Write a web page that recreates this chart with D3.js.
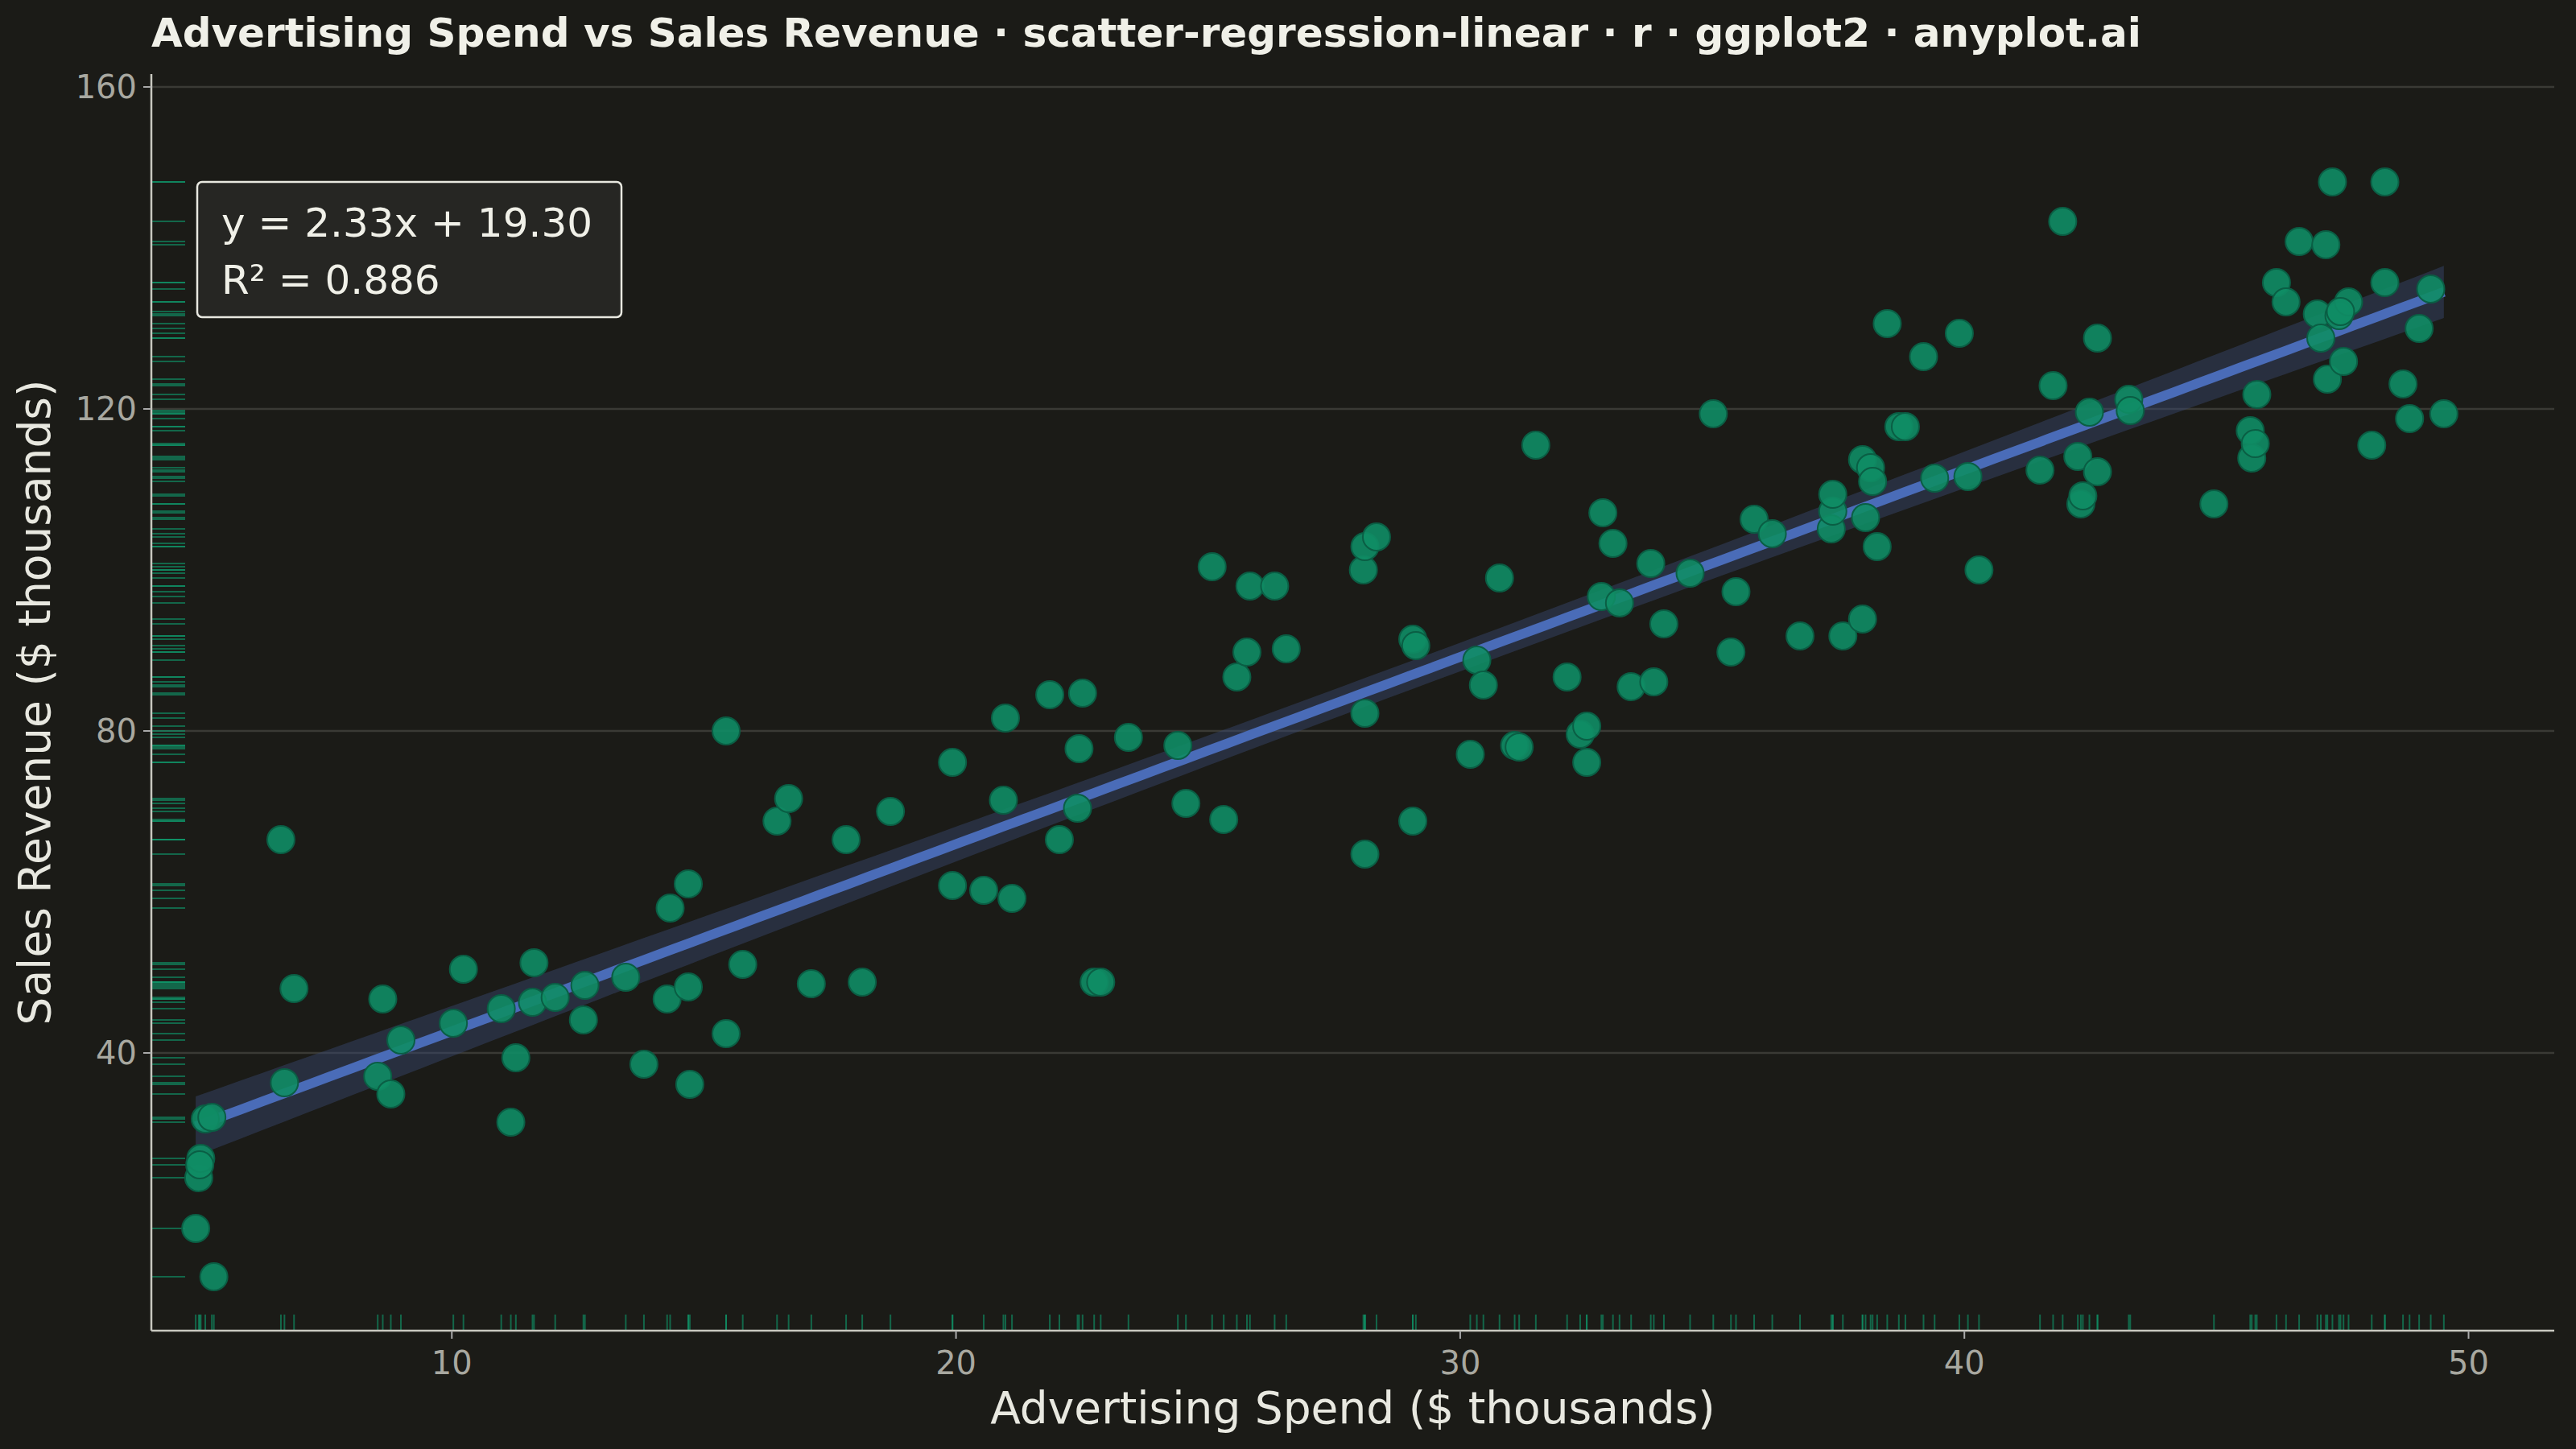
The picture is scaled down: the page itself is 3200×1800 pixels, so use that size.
<!DOCTYPE html><html><head><meta charset="utf-8"><script src="https://cdn.jsdelivr.net/npm/d3@7"></script>
<style>body{margin:0;background:#1b1b17}</style></head><body><svg id="c" width="3200" height="1800"></svg>
<script>
const adSpend=[4.92,5.28,4.98,5.02,5.0,5.11,5.24,6.61,6.68,6.87,8.53,8.63,8.79,8.99,10.03,10.23,10.98,11.17,11.27,11.6,11.63,12.05,12.61,12.64,13.45,13.81,14.27,14.33,14.69,14.69,14.72,15.44,15.44,15.77,16.45,16.68,17.13,17.82,18.14,18.70,19.93,19.93,20.55,20.98,20.94,21.11,21.86,22.05,22.44,22.51,22.41,22.74,22.87,23.42,24.40,24.56,25.08,25.31,25.57,25.77,25.83,26.32,26.55,28.08,28.11,28.34,28.11,28.11,29.06,29.12,29.06,30.33,30.46,30.20,30.78,31.08,31.17,31.50,32.12,32.38,32.51,32.51,32.83,32.80,33.03,33.16,33.39,33.78,33.84,34.04,34.56,35.02,35.37,35.47,35.83,36.19,36.74,37.36,37.39,37.39,37.59,37.98,37.98,38.04,38.14,38.18,38.27,38.47,38.70,38.83,39.19,39.41,39.90,40.07,40.29,41.50,41.76,41.95,42.25,42.31,42.35,42.48,42.64,42.64,43.26,43.29,44.95,45.67,45.70,45.77,45.80,46.19,46.38,46.64,47.0,47.07,47.17,47.20,47.30,47.43,47.52,47.62,47.46,48.08,48.34,48.34,48.70,48.83,49.02,49.25,49.51];
const revenue=[18.2,12.2,24.5,26.9,26.1,31.8,32.0,66.5,36.3,48.0,37.1,46.7,34.9,41.6,43.7,50.4,45.5,31.4,39.4,46.3,51.2,46.9,44.1,48.4,49.4,38.6,46.7,58.0,48.2,61.0,36.1,42.4,80.0,51.0,68.8,71.6,48.6,66.5,48.8,70.0,76.1,60.8,60.2,81.6,71.4,59.2,84.5,66.5,77.8,84.7,70.4,48.8,48.8,79.2,78.2,71.0,100.4,69.0,86.7,89.8,98.0,98.0,90.2,100.0,102.9,104.1,82.2,64.7,91.4,90.6,68.8,88.8,85.7,77.1,99.0,78.2,78.0,115.5,86.7,79.6,80.6,76.1,107.1,96.7,103.3,95.9,85.5,100.8,86.1,93.3,99.6,119.4,89.8,97.3,106.3,104.5,91.8,105.1,107.3,109.4,91.8,93.9,113.7,106.5,112.7,111.0,102.9,130.6,117.8,117.8,126.5,111.4,129.4,111.6,100.0,112.4,122.9,143.3,114.1,108.2,109.2,119.6,112.2,128.8,121.2,119.8,108.2,117.3,113.9,115.7,121.8,135.7,133.3,140.8,131.8,128.8,140.4,123.7,148.2,131.6,125.9,133.3,132.1,115.5,148.2,135.7,123.1,118.8,130.0,134.9,119.4];
const xTicks=[10,20,30,40,50], yTicks=[40,80,120,160];
const eqLabel="y = 2.33x + 19.30", r2Label="R² = 0.886";

const W=3200,H=1800,L=188,R=3173,T=92,B=1653;
const svg=d3.select("#c");
svg.append("rect").attr("width",W).attr("height",H).attr("fill","#1b1b17");
const x=d3.scaleLinear().domain([4.04,51.7]).range([L,R]);
const y=d3.scaleLinear().domain([5.5,161.6]).range([B,T]);
const g=svg.append("g");
yTicks.forEach(t=>g.append("line").attr("x1",L).attr("x2",R).attr("y1",y(t)).attr("y2",y(t)).attr("stroke","#3a3a35").attr("stroke-width",2.5));
const data=adSpend.map((a,i)=>({x:a,y:revenue[i]}));
const n=data.length,mx=d3.mean(adSpend),my=d3.mean(revenue);
const sxx=d3.sum(adSpend,a=>(a-mx)**2);
const b=d3.sum(data,d=>(d.x-mx)*(d.y-my))/sxx,a0=my-b*mx;
const s=Math.sqrt(d3.sum(data,d=>(d.y-a0-b*d.x)**2)/(n-2));
const xs=d3.range(0,101).map(i=>d3.min(adSpend)+i*(d3.max(adSpend)-d3.min(adSpend))/100);
const band=xs.map(v=>{const se=s*Math.sqrt(1/n+(v-mx)**2/sxx);return{x:v,lo:a0+b*v-1.976*se,hi:a0+b*v+1.976*se};});
g.append("path").attr("d",d3.area().x(d=>x(d.x)).y0(d=>y(d.lo)).y1(d=>y(d.hi))(band)).attr("fill","#3a4a70").attr("opacity",0.45);
g.append("path").attr("d",d3.line().x(d=>x(d)).y(d=>y(a0+b*d))(xs)).attr("stroke","#4a6cb8").attr("stroke-width",12).attr("fill","none");
g.selectAll(".rx").data(adSpend).join("line").attr("x1",d=>x(d)).attr("x2",d=>x(d)).attr("y1",B).attr("y2",B-20).attr("stroke","#0f9a6c").attr("stroke-width",2).attr("opacity",0.6);
g.selectAll(".ry").data(revenue).join("line").attr("y1",d=>y(d)).attr("y2",d=>y(d)).attr("x1",L).attr("x2",L+42).attr("stroke","#0f9a6c").attr("stroke-width",2).attr("opacity",0.6);
g.selectAll("circle").data(data).join("circle").attr("cx",d=>x(d.x)).attr("cy",d=>y(d.y)).attr("r",17).attr("fill","#0f8d65").attr("fill-opacity",0.9).attr("stroke","#0a5e44").attr("stroke-width",2);
g.append("line").attr("x1",L).attr("x2",L).attr("y1",T).attr("y2",B).attr("stroke","#c8c8c0").attr("stroke-width",2.5);
g.append("line").attr("x1",L).attr("x2",R).attr("y1",B).attr("y2",B).attr("stroke","#c8c8c0").attr("stroke-width",2.5);
const f="DejaVu Sans, sans-serif";
xTicks.forEach(t=>{g.append("line").attr("x1",x(t)).attr("x2",x(t)).attr("y1",B).attr("y2",B+10).attr("stroke","#aaa").attr("stroke-width",2);
 g.append("text").attr("x",x(t)).attr("y",B+54).attr("text-anchor","middle").attr("fill","#a8a8a0").attr("font-size",40).attr("font-family",f).text(t);});
yTicks.forEach(t=>{g.append("line").attr("x1",L-10).attr("x2",L).attr("y1",y(t)).attr("y2",y(t)).attr("stroke","#aaa").attr("stroke-width",2);
 g.append("text").attr("x",L-18).attr("y",y(t)+14).attr("text-anchor","end").attr("fill","#a8a8a0").attr("font-size",40).attr("font-family",f).text(t);});
g.append("text").attr("x",(L+R)/2).attr("y",1768).attr("text-anchor","middle").attr("fill","#e8e8e0").attr("font-size",55).attr("font-family",f).text("Advertising Spend ($ thousands)");
g.append("text").attr("transform",`translate(62,${(T+B)/2}) rotate(-90)`).attr("text-anchor","middle").attr("fill","#e8e8e0").attr("font-size",55).attr("font-family",f).text("Sales Revenue ($ thousands)");
g.append("text").attr("x",L).attr("y",58).attr("fill","#f0f0e8").attr("font-size",50).attr("font-weight","bold").attr("font-family",f).text("Advertising Spend vs Sales Revenue · scatter-regression-linear · r · ggplot2 · anyplot.ai");
g.append("rect").attr("x",245).attr("y",226).attr("width",527).attr("height",168).attr("rx",6).attr("fill","#262623").attr("stroke","#e8e8e0").attr("stroke-width",2.5);
g.append("text").attr("x",275).attr("y",294).attr("fill","#f0f0e8").attr("font-size",50).attr("font-family",f).text(eqLabel);
g.append("text").attr("x",275).attr("y",365).attr("fill","#f0f0e8").attr("font-size",50).attr("font-family",f).text(r2Label);
</script></body></html>
